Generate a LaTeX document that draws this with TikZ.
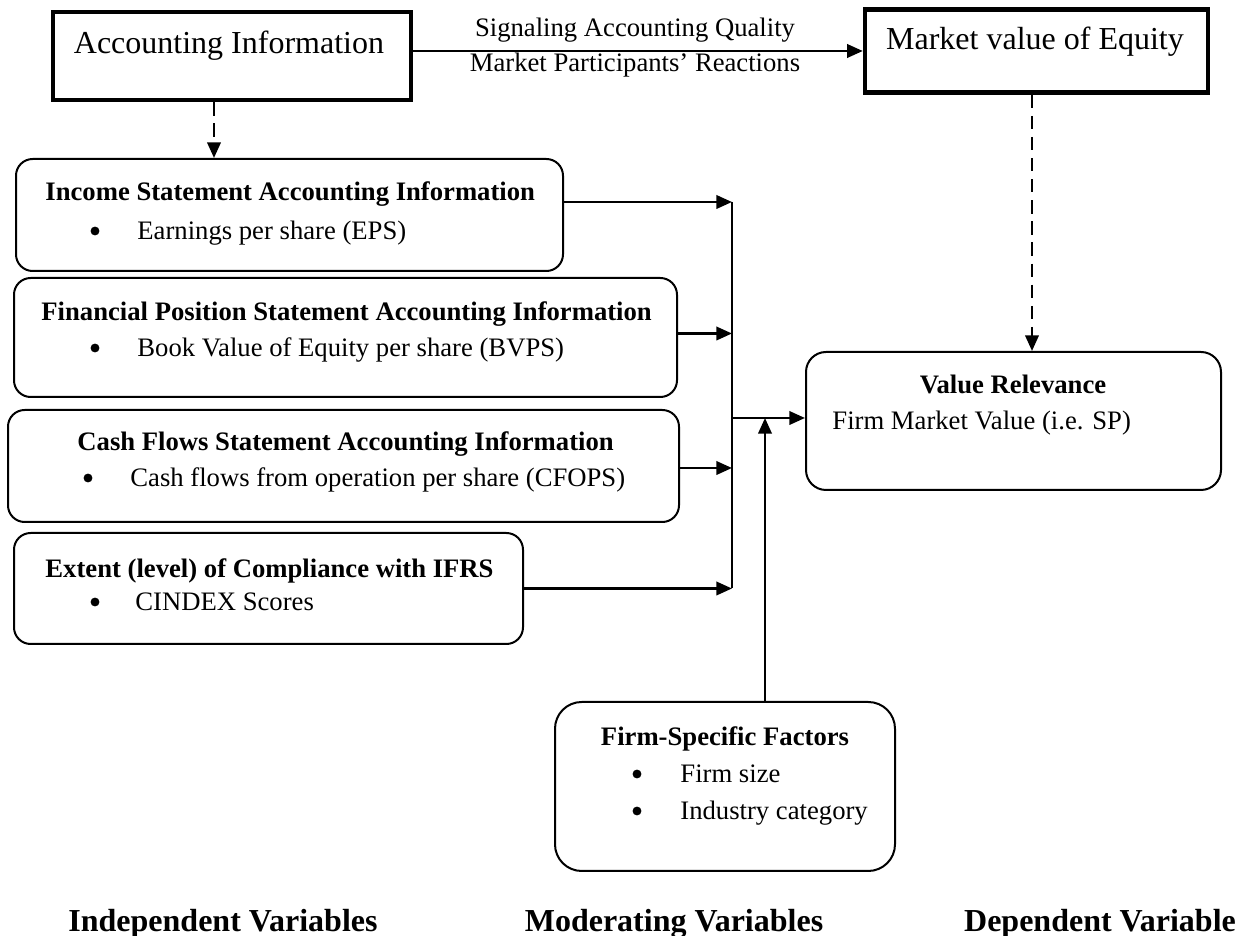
\documentclass[tikz,border=0pt]{standalone}
\usepackage{fontspec}
\setmainfont{Liberation Serif}
\usetikzlibrary{arrows.meta}

\begin{document}
\begin{tikzpicture}[x=0.45pt,y=-0.45pt,
  sz/.style 2 args={minimum width=#1*0.45pt, minimum height=#2*0.45pt},
  thickbox/.style={draw, line width=2pt, inner sep=0pt},
  rbox/.style={draw, line width=0.9pt, rounded corners=7.5pt, inner sep=0pt},
  txt/.style={font=\fontsize{12}{14}\selectfont, inner sep=0pt},
  ttl/.style={font=\fontsize{12}{14}\selectfont\bfseries, inner sep=0pt},
  big/.style={font=\fontsize{14.4}{17}\selectfont, inner sep=0pt},
  colhead/.style={font=\fontsize{14.4}{17}\selectfont\bfseries, inner sep=0pt},
  bullet/.style={circle, fill, inner sep=0pt, minimum size=4pt},
  arr/.style={line width=1.1pt, -{Triangle[length=7pt,width=6pt]}},
  darr/.style={arr, dash pattern=on 6pt off 3.5pt},
  bus/.style={line width=1.1pt}]

\useasboundingbox (0,0) rectangle (1255,936);

% top row
\node[thickbox, sz={358}{88}] (ai) at (232,56) {};
\node[big, anchor=base] at (229,54) {Accounting Information};
\node[thickbox, sz={343}{83}] (mv) at (1036.5,51) {};
\node[big, anchor=base] at (1035,50) {Market value of Equity};

% independent variable boxes
\node[rbox, sz={547}{112}] (inc) at (289.5,215) {};
\node[ttl, anchor=base west] at (45,201) {Income Statement Accounting Information};
\node[bullet] (b1) at (95,231) {};
\node[txt, anchor=base west] at (137,240) {Earnings per share (EPS)};

\node[rbox, sz={663}{119}] (fp) at (345.5,337.5) {};
\node[ttl, anchor=base west] at (41,321) {Financial Position Statement Accounting Information};
\node[bullet] (b2) at (95,348) {};
\node[txt, anchor=base west] at (137,357) {Book Value of Equity per share (BVPS)};

\node[rbox, sz={671}{112}] (cf) at (343.5,466) {};
\node[ttl, anchor=base west] at (77,451) {Cash Flows Statement Accounting Information};
\node[bullet] (b3) at (88,478) {};
\node[txt, anchor=base west] at (130,487) {Cash flows from operation per share (CFOPS)};

\node[rbox, sz={509}{111}] (cmp) at (268.5,588.5) {};
\node[ttl, anchor=base west] at (45,578) {Extent (level) of Compliance with IFRS};
\node[bullet] (b4) at (95,602) {};
\node[txt, anchor=base west] at (135,611) {CINDEX Scores};

% dependent variable box
\node[rbox, rounded corners=9pt, sz={415}{138}] (vr) at (1013.5,421) {};
\node[ttl, anchor=base] at (1013,394) {Value Relevance};
\node[txt, anchor=base west] at (832,430) {Firm Market Value (i.e. SP)};

% moderating variable box
\node[rbox, rounded corners=12pt, sz={340}{169}] (fs) at (725,786.5) {};
\node[ttl, anchor=base] at (725,746) {Firm-Specific Factors};
\node[bullet] (b5) at (637,774) {};
\node[txt, anchor=base west] at (680,783) {Firm size};
\node[bullet] (b6) at (637,811) {};
\node[txt, anchor=base west] at (680,820) {Industry category};

% column headings
\node[colhead, anchor=base] at (223,932) {Independent Variables};
\node[colhead, anchor=base] at (674,932) {Moderating Variables};
\node[colhead, anchor=base] at (1100,932) {Dependent Variable};

% junction points of the connector bus
\coordinate (busTop) at (732,202);
\coordinate (join) at (732,418);
\coordinate (modTop) at (765,418);

% signalling arrow with its two labels
\draw[arr] (ai.east |- mv.west) -- (mv.west);
\node[txt, anchor=base] at (635,37) {Signaling Accounting Quality};
\node[txt, anchor=base] at (635,72) {Market Participants’ Reactions};

% dashed links
\draw[darr] (ai.south) ++(-18,0) coordinate (aiOut) -- (aiOut |- inc.north);
\draw[darr] (mv.south) ++(-4.5,0) coordinate (mvOut) -- (mvOut |- vr.north);

% independent variables into the bus
\draw[arr] (inc.east |- busTop) -- (busTop);
\draw[arr] (fp.east) ++(0,-4) coordinate (fpOut) -- (fpOut -| busTop);
\draw[arr] (cf.east) ++(0,2) coordinate (cfOut) -- (cfOut -| busTop);
\draw[arr] (cmp.east) -- (cmp.east -| busTop);
\draw[bus] (busTop) -- (cmp.east -| busTop);

% bus into the dependent variable, moderator into the bus
\draw[arr] (join) -- (join -| vr.west);
\draw[arr] (modTop |- fs.north) -- (modTop);

\end{tikzpicture}
\end{document}
